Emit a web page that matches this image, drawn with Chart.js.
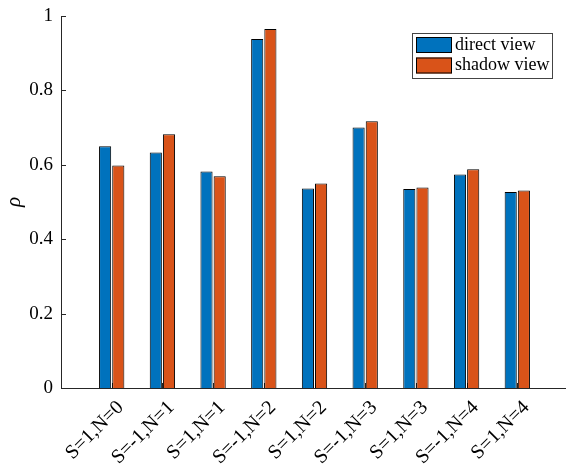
<!DOCTYPE html>
<html>
<head>
<meta charset="utf-8">
<script src="https://cdn.jsdelivr.net/npm/chart.js@4"></script>
<style>
  html, body { margin: 0; padding: 0; background: #fff; overflow: hidden; }
  #wrap { width: 600px; height: 472px; }
</style>
</head>
<body>
<div id="wrap"><canvas id="rhoChart" width="600" height="472"></canvas></div>
<script>
  const categories = ["S=1,N=0", "S=-1,N=1", "S=1,N=1", "S=-1,N=2", "S=1,N=2",
                      "S=-1,N=3", "S=1,N=3", "S=-1,N=4", "S=1,N=4"];
  const directView = [0.650, 0.633, 0.582, 0.938, 0.536, 0.700, 0.535, 0.574, 0.527];
  const shadowView = [0.598, 0.682, 0.569, 0.965, 0.550, 0.717, 0.539, 0.588, 0.531];
  const yTicks = [0, 0.2, 0.4, 0.6, 0.8, 1];

  const FONT = "Liberation Serif";
  const AXIS = "#262626";
  Chart.defaults.font.family = FONT;
  Chart.defaults.color = "#000";

  // empty slots at both ends so the groups sit one step in from the axes
  const labels = ["", ...categories, ""];
  const pad = arr => [null, ...arr, null];

  // MATLAB-style inward ticks
  const innerTicks = {
    id: "innerTicks",
    beforeDatasetsDraw(chart) {
      const { ctx, chartArea: a, scales: { x, y } } = chart;
      ctx.save();
      ctx.strokeStyle = AXIS;
      ctx.lineWidth = 1;
      ctx.beginPath();
      yTicks.forEach(v => {
        const py = Math.round(y.getPixelForValue(v)) + 0.5;
        ctx.moveTo(a.left, py);
        ctx.lineTo(a.left + 5, py);
      });
      for (let i = 1; i <= categories.length; i++) {
        const px = Math.round(x.getPixelForTick(i)) + 0.5;
        ctx.moveTo(px, a.bottom);
        ctx.lineTo(px, a.bottom - 5);
      }
      ctx.stroke();
      ctx.restore();
    }
  };

  // boxed legend inside the axes, top right
  const boxLegend = {
    id: "boxLegend",
    afterDraw(chart) {
      const ctx = chart.ctx;
      const bx = 412, by = 33, bw = 140, bh = 45;
      ctx.save();
      ctx.fillStyle = "#fff";
      ctx.fillRect(bx, by, bw, bh);
      ctx.strokeStyle = "#444";
      ctx.lineWidth = 1;
      ctx.strokeRect(bx + 0.5, by + 0.5, bw, bh);
      ctx.font = "18px " + FONT;
      ctx.textBaseline = "middle";
      chart.data.datasets.forEach((ds, i) => {
        const sy = by + 4 + i * 20.5;
        ctx.fillStyle = ds.backgroundColor;
        ctx.fillRect(bx + 4, sy, 36, 16);
        ctx.strokeStyle = "#000";
        ctx.strokeRect(bx + 4.5, sy + 0.5, 35, 15);
        ctx.fillStyle = "#000";
        ctx.fillText(ds.label, bx + 43, sy + 8);
      });
      ctx.restore();
    }
  };

  document.addEventListener("DOMContentLoaded", function () {
    new Chart(document.getElementById("rhoChart"), {
      type: "bar",
      data: {
        labels,
        datasets: [
          { label: "direct view", data: pad(directView), backgroundColor: "#0072BD",
            borderColor: "#000", borderWidth: 1, borderSkipped: "bottom" },
          { label: "shadow view", data: pad(shadowView), backgroundColor: "#D95319",
            borderColor: "#000", borderWidth: 1, borderSkipped: "bottom" }
        ]
      },
      options: {
        responsive: false,
        animation: false,
        layout: { padding: { top: 0, right: 32, bottom: 0, left: 0 } },
        datasets: { bar: { categoryPercentage: 0.52, barPercentage: 0.92 } },
        plugins: { legend: { display: false }, tooltip: { enabled: false } },
        scales: {
          x: {
            offset: false,
            grid: { display: false, drawTicks: false },
            border: { color: AXIS, width: 1 },
            ticks: {
              autoSkip: false, minRotation: 45, maxRotation: 45, padding: 8,
              labelOffset: 9, color: "#000", font: { family: FONT, size: 20 }
            },
            afterFit(s) { s.height = 84; }
          },
          y: {
            min: 0, max: 1,
            grid: { display: false, drawTicks: false },
            border: { color: AXIS, width: 1 },
            afterBuildTicks(s) { s.ticks = yTicks.map(v => ({ value: v })); },
            ticks: {
              padding: 8, color: "#000", font: { family: FONT, size: 19 },
              callback: v => String(+v.toFixed(1))
            },
            title: {
              display: true, text: "ρ", color: "#000", padding: 2,
              font: { family: FONT, size: 21, style: "italic" }
            },
            afterFit(s) { s.width = 61; s.paddingTop = 16; s.paddingBottom = 0; }
          }
        }
      },
      plugins: [innerTicks, boxLegend]
    });
  });
</script>
</body>
</html>
